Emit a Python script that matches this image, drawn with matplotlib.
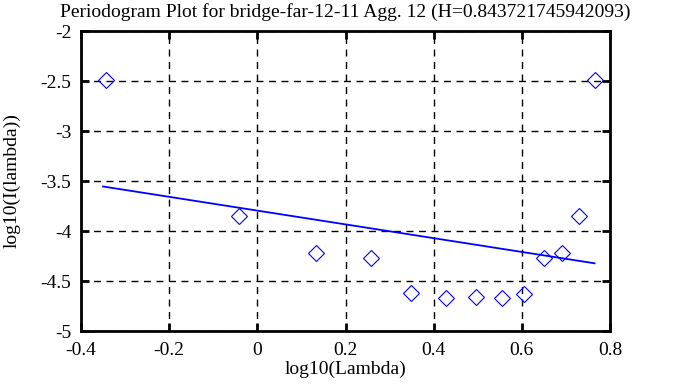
import matplotlib
matplotlib.use('Agg')
import matplotlib.pyplot as plt

plt.rcParams['font.family'] = ['Liberation Serif', 'DejaVu Serif']

# periodogram points (log10 lambda, log10 I)
log_lambda = [-0.343, -0.042, 0.134, 0.257, 0.349, 0.429, 0.497, 0.555, 0.605, 0.651, 0.691, 0.730, 0.766]
log_I = [-2.49, -3.845, -4.22, -4.27, -4.62, -4.67, -4.66, -4.67, -4.63, -4.27, -4.22, -3.845, -2.49]

# fitted line end points
fit_x = [-0.35, 0.765]
fit_y = [-3.555, -4.323]

fig = plt.figure(figsize=(6.88, 3.87), dpi=100)
ax = fig.add_axes([81/688, 1 - 331/387, (610 - 81)/688, (331 - 31)/387])

ax.plot(log_lambda, log_I, linestyle='none', marker='D', markersize=8,
        markerfacecolor='none', markeredgecolor='blue', markeredgewidth=0.8)
ax.plot(fit_x, fit_y, color='blue', linewidth=1.3)

ax.set_xlim(-0.4, 0.8)
ax.set_ylim(-5, -2)
ax.set_xticks([-0.4, -0.2, 0, 0.2, 0.4, 0.6, 0.8])
ax.set_xticklabels(['-0.4', '-0.2', '0', '0.2', '0.4', '0.6', '0.8'])
ax.set_yticks([-5, -4.5, -4, -3.5, -3, -2.5, -2])
ax.set_yticklabels(['-5', '-4.5', '-4', '-3.5', '-3', '-2.5', '-2'])

ax.grid(True, color='black', linestyle=(0, (5, 4)), linewidth=1)
ax.tick_params(direction='in', length=6, width=2, top=True, right=True, labelsize=14)
ax.tick_params(axis='x', pad=8)
ax.tick_params(axis='y', pad=7)
for s in ax.spines.values():
    s.set_linewidth(2)

ax.set_title('Periodogram Plot for bridge-far-12-11 Agg. 12 (H=0.843721745942093)', fontsize=14, pad=10)
ax.set_xlabel('log10(Lambda)', fontsize=14, labelpad=1)
ax.set_ylabel('log10(I(lambda))', fontsize=14, labelpad=14)

fig.savefig('out.png', dpi=100)
